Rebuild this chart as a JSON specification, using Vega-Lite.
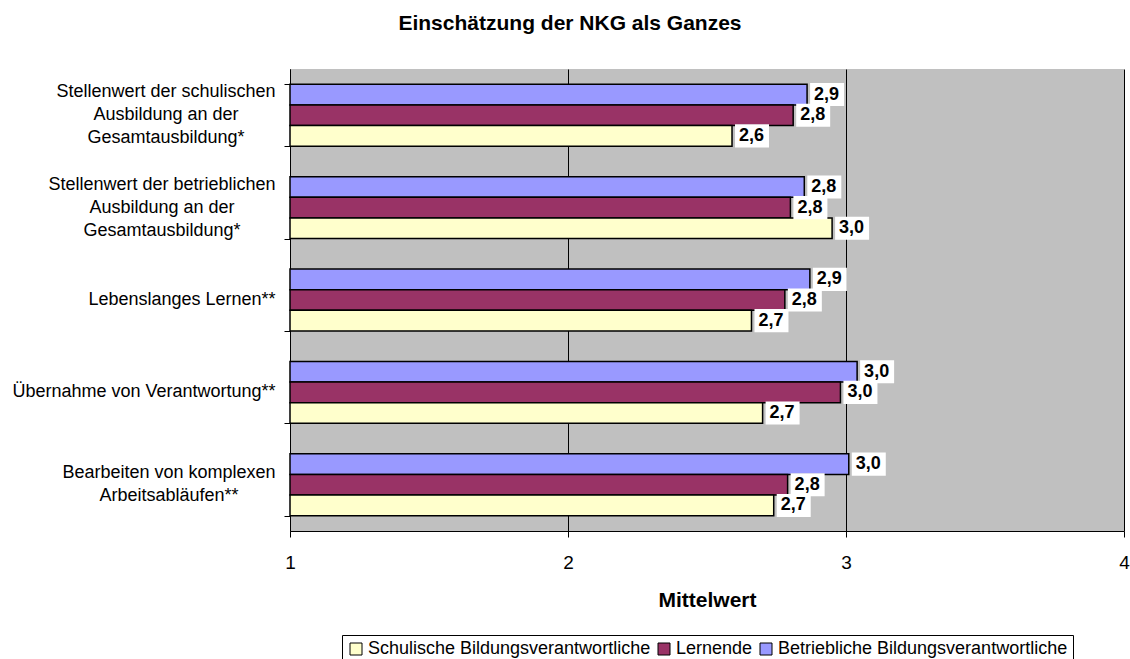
{
  "$schema": "https://vega.github.io/schema/vega-lite/v6.json",
  "autosize": {"type": "none"},
  "padding": {"left": 290, "top": 69, "right": 6, "bottom": 128},
  "width": 834,
  "height": 462,
  "background": "white",
  "title": {
    "text": "Einschätzung der NKG als Ganzes",
    "font": "Liberation Sans",
    "fontSize": 21,
    "fontWeight": "bold",
    "color": "black",
    "anchor": "middle",
    "frame": "group",
    "offset": 35,
    "dx": -137
  },
  "data": {
    "values": [
      {"kat": "Stellenwert der schulischen|Ausbildung an der|Gesamtausbildung*", "gruppe": "Betriebliche Bildungsverantwortliche", "wert": 2.86, "label": "2,9"},
      {"kat": "Stellenwert der schulischen|Ausbildung an der|Gesamtausbildung*", "gruppe": "Lernende", "wert": 2.81, "label": "2,8"},
      {"kat": "Stellenwert der schulischen|Ausbildung an der|Gesamtausbildung*", "gruppe": "Schulische Bildungsverantwortliche", "wert": 2.59, "label": "2,6"},
      {"kat": "Stellenwert der betrieblichen|Ausbildung an der|Gesamtausbildung*", "gruppe": "Betriebliche Bildungsverantwortliche", "wert": 2.85, "label": "2,8"},
      {"kat": "Stellenwert der betrieblichen|Ausbildung an der|Gesamtausbildung*", "gruppe": "Lernende", "wert": 2.80, "label": "2,8"},
      {"kat": "Stellenwert der betrieblichen|Ausbildung an der|Gesamtausbildung*", "gruppe": "Schulische Bildungsverantwortliche", "wert": 2.95, "label": "3,0"},
      {"kat": "Lebenslanges Lernen**", "gruppe": "Betriebliche Bildungsverantwortliche", "wert": 2.87, "label": "2,9"},
      {"kat": "Lebenslanges Lernen**", "gruppe": "Lernende", "wert": 2.78, "label": "2,8"},
      {"kat": "Lebenslanges Lernen**", "gruppe": "Schulische Bildungsverantwortliche", "wert": 2.66, "label": "2,7"},
      {"kat": "Übernahme von Verantwortung**", "gruppe": "Betriebliche Bildungsverantwortliche", "wert": 3.04, "label": "3,0"},
      {"kat": "Übernahme von Verantwortung**", "gruppe": "Lernende", "wert": 2.98, "label": "3,0"},
      {"kat": "Übernahme von Verantwortung**", "gruppe": "Schulische Bildungsverantwortliche", "wert": 2.70, "label": "2,7"},
      {"kat": "Bearbeiten von komplexen|Arbeitsabläufen**", "gruppe": "Betriebliche Bildungsverantwortliche", "wert": 3.01, "label": "3,0"},
      {"kat": "Bearbeiten von komplexen|Arbeitsabläufen**", "gruppe": "Lernende", "wert": 2.79, "label": "2,8"},
      {"kat": "Bearbeiten von komplexen|Arbeitsabläufen**", "gruppe": "Schulische Bildungsverantwortliche", "wert": 2.74, "label": "2,7"}
    ]
  },
  "encoding": {
    "y": {
      "field": "kat",
      "type": "nominal",
      "sort": null,
      "scale": {"paddingInner": 0.33, "paddingOuter": 0.165},
      "axis": {
        "title": null,
        "labels": false,
        "tickSize": 6,
        "tickColor": "black",
        "domainColor": "black",
        "grid": false,
        "tickBand": "extent"
      }
    },
    "x": {
      "field": "wert",
      "type": "quantitative",
      "scale": {"domain": [1, 4], "zero": false, "nice": false},
      "axis": {
        "title": "Mittelwert",
        "titleFont": "Liberation Sans",
        "titleFontSize": 21,
        "titleFontWeight": "bold",
        "titleColor": "black",
        "titlePadding": 17,
        "values": [1, 2, 3, 4],
        "format": "d",
        "labelFont": "Liberation Sans",
        "labelFontSize": 19,
        "labelColor": "black",
        "labelPadding": 16,
        "labelFlush": false,
        "tickSize": 6,
        "tickColor": "black",
        "domainColor": "black",
        "grid": true,
        "gridColor": "black",
        "gridOpacity": 1,
        "gridWidth": 1
      }
    }
  },
  "layer": [
    {
      "mark": {"type": "bar", "stroke": "black", "strokeWidth": 1.5, "opacity": 1},
      "encoding": {
        "yOffset": {
          "field": "gruppe",
          "type": "nominal",
          "sort": ["Betriebliche Bildungsverantwortliche", "Lernende", "Schulische Bildungsverantwortliche"],
          "scale": {"paddingInner": 0, "paddingOuter": 0}
        },
        "x2": {"datum": 1},
        "color": {
          "field": "gruppe",
          "type": "nominal",
          "scale": {
            "domain": ["Schulische Bildungsverantwortliche", "Lernende", "Betriebliche Bildungsverantwortliche"],
            "range": ["#FFFFCC", "#993366", "#9999FF"]
          },
          "legend": {
            "title": null,
            "orient": "none",
            "legendX": 52,
            "legendY": 566,
            "direction": "horizontal",
            "symbolType": "square",
            "symbolSize": 144,
            "symbolStrokeColor": "black",
            "symbolStrokeWidth": 1,
            "symbolOpacity": 1,
            "labelFont": "Liberation Sans",
            "labelFontSize": 18,
            "labelColor": "black",
            "labelLimit": 500,
            "labelOffset": 3,
            "columnPadding": 4,
            "padding": 5,
            "strokeColor": "black",
            "fillColor": "white"
          }
        }
      }
    },
    {
      "mark": {"type": "point", "shape": "M0,-0.68H2V0.68H0Z", "size": 1156, "filled": true, "color": "white", "opacity": 1, "xOffset": 3},
      "encoding": {
        "yOffset": {
          "field": "gruppe",
          "type": "nominal",
          "sort": ["Betriebliche Bildungsverantwortliche", "Lernende", "Schulische Bildungsverantwortliche"],
          "scale": {"paddingInner": 0, "paddingOuter": 0}
        }
      }
    },
    {
      "mark": {"type": "text", "align": "left", "baseline": "middle", "dx": 7, "font": "Liberation Sans", "fontSize": 18, "fontWeight": "bold", "color": "black"},
      "encoding": {
        "yOffset": {
          "field": "gruppe",
          "type": "nominal",
          "sort": ["Betriebliche Bildungsverantwortliche", "Lernende", "Schulische Bildungsverantwortliche"],
          "scale": {"paddingInner": 0, "paddingOuter": 0}
        },
        "text": {"field": "label", "type": "nominal"}
      }
    },
    {
      "transform": [{"filter": "datum.gruppe == 'Lernende'"}],
      "mark": {
        "type": "text",
        "align": "center",
        "baseline": "middle",
        "lineBreak": "|",
        "lineHeight": 23,
        "font": "Liberation Sans",
        "fontSize": 18,
        "color": "black",
        "dx": {"expr": "indexof(datum.kat, 'schulischen') >= 0 ? -124 : indexof(datum.kat, 'betrieblichen') >= 0 ? -128 : indexof(datum.kat, 'Lebenslanges') >= 0 ? -108 : indexof(datum.kat, 'Verantwortung') >= 0 ? -146 : -121"},
        "dy": {"expr": "indexof(datum.kat, 'Gesamtausbildung') >= 0 ? -23 : indexof(datum.kat, 'Arbeitsabl') >= 0 ? -11.5 : 0"}
      },
      "encoding": {
        "x": {"datum": 1},
        "text": {"field": "kat", "type": "nominal"}
      }
    }
  ],
  "config": {
    "view": {"fill": "#C0C0C0", "stroke": null}
  }
}
